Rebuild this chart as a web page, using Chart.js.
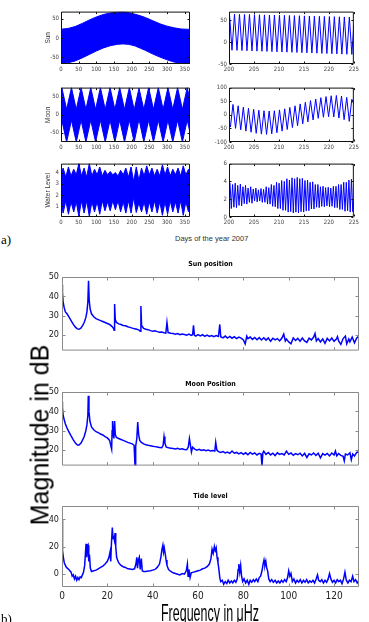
<!DOCTYPE html>
<html>
<head>
<meta charset="utf-8">
<title>Sun, Moon and tide level</title>
<script src="https://cdn.jsdelivr.net/npm/chart.js@4.4.0/dist/chart.umd.min.js"></script>
<style>
  body { margin:0; width:369px; height:622px; overflow:hidden; background:#fff; position:relative; font-family:"Liberation Sans", Arial, sans-serif; }
  canvas { position:absolute; }
  .txt { position:absolute; white-space:nowrap; color:#000; line-height:1; }
</style>
</head>
<body>
<canvas id="sunYear"></canvas>
<canvas id="sunZoom"></canvas>
<canvas id="moonYear"></canvas>
<canvas id="moonZoom"></canvas>
<canvas id="waterYear"></canvas>
<canvas id="waterZoom"></canvas>
<canvas id="sunSpec"></canvas>
<canvas id="moonSpec"></canvas>
<canvas id="tideSpec"></canvas>

<div class="txt" style="left:1px;top:232px;font:13px 'Liberation Serif',serif;">a)</div>
<div class="txt" style="left:175px;top:235px;font-size:7.5px;color:#333;">Days of the year 2007</div>
<div class="txt" style="left:40px;top:435px;font-size:25px;transform:translate(-50%,-50%) rotate(-90deg);">Magnitude in dB</div>
<div class="txt" style="left:210px;top:601px;font-size:24px;transform:scaleX(0.52) translateX(-50%);transform-origin:0 0;">Frequency in μHz</div>
<div class="txt" style="left:1px;top:611px;font:13px 'Liberation Serif',serif;">b)</div>

<script>
// ---- data ----
// sun altitude over the year: envelope of the daily swing
const sunYearDays  = [0, 20, 40, 60, 80, 100, 120, 140, 160, 175, 190, 200, 210, 225, 240, 260, 280, 300, 320, 340, 365];
const sunYearUpper = [23, 25, 30, 38, 47, 55, 61.5, 65.5, 67.5, 68, 66.5, 64.5, 62, 58, 53, 45, 37, 31, 26.5, 23.5, 22.5];
const sunYearLower = [-67, -65, -60, -52, -43, -34, -26, -20, -16.5, -15.5, -16.5, -18.5, -21, -27, -33, -42, -50, -57, -63, -66, -67];

// sun altitude, days 200-225 (daily maxima / minima)
const sunZoomDays = [200.1,200.6,201.1,201.6,202.1,202.6,203.1,203.6,204.1,204.6,205.1,205.6,206.1,206.6,207.1,207.6,208.1,208.6,209.1,209.6,
  210.1,210.6,211.1,211.6,212.1,212.6,213.1,213.6,214.1,214.6,215.1,215.6,216.1,216.6,217.1,217.6,218.1,218.6,219.1,219.6,
  220.1,220.6,221.1,221.6,222.1,222.6,223.1,223.6,224.1,224.6,225];
const sunZoomAlt = [64,-18.5,64,-18.9,63.8,-19.3,63.5,-19.7,63.3,-20.1,63,-20.5,62.8,-20.9,62.5,-21.3,62.2,-21.7,62,-22.1,
  61.7,-22.5,61.4,-22.9,61.1,-23.3,60.8,-23.7,60.5,-24.1,60.2,-24.5,59.9,-24.9,59.6,-25.3,59.3,-25.7,59,-26.1,
  58.7,-26.5,58.4,-26.9,58.1,-27.3,57.8,-27.7,57.5,-28.1,40];

// moon altitude over the year: envelope
const moonYearDays  = [0, 2.3, 15.9, 29.6, 43.2, 56.9, 70.5, 84.2, 97.8, 111.5, 125.1, 138.8, 152.4, 166.1, 179.7, 193.4, 207, 220.7, 234.3, 248, 261.6, 275.3, 288.9, 302.6, 316.2, 329.9, 343.5, 357.2, 365];
const moonYearUpper = [72, 75, 15, 75, 15, 75, 15, 75, 15, 75, 15, 75, 15, 75, 15, 75, 14, 73, 15, 75, 15, 75, 15, 75, 15, 75, 15, 75, 41];
const moonYearLower = [-20, -15, -75, -15, -75, -15, -75, -15, -75, -15, -75, -15, -75, -15, -75, -15, -75, -12, -75, -15, -75, -15, -75, -15, -75, -15, -75, -15, -49];

// moon altitude, days 200-225
const moonZoomDays = [200, 200.28, 200.8, 201.31, 201.83, 202.35, 202.87, 203.38, 203.9, 204.42, 204.94, 205.45, 205.97, 206.49, 207.01, 207.52,
  208.04, 208.56, 209.08, 209.59, 210.11, 210.63, 211.15, 211.66, 212.18, 212.7, 213.22, 213.73, 214.25, 214.77, 215.29, 215.8,
  216.32, 216.84, 217.36, 217.87, 218.39, 218.91, 219.43, 219.94, 220.46, 220.98, 221.5, 222.01, 222.53, 223.05, 223.57, 224.08, 224.6, 225];
const moonZoomAlt = [-30, -45,38, -50,33, -55,28, -60,24, -64,20, -68,17, -71,15, -72,14, -70,15, -66,18, -60,22, -54,27, -47,33,
  -40,40, -33,46, -26,52, -19,58, -13,63, -9,67, -7,70, -8,71, -12,69, -18,64, -24,57, 40];

// water level over the year: envelope at spring / neap tides
const waterYearDays  = [0, 6, 13.6, 21, 28.4, 36, 43.2, 50.5, 57.9, 65.3, 72.7, 80.1, 87.5, 94.8, 102.2, 109.6, 117, 124.4, 131.8, 139.2,
  146.6, 153.9, 161.3, 168.7, 176.1, 183.5, 190.9, 198.2, 205.6, 213, 220.4, 227.8, 235.2, 242.5, 249.9, 257.3, 264.7, 272.1, 279.5, 286.9,
  294.3, 301.6, 309, 316.4, 323.8, 331.2, 338.6, 345.9, 353.3, 360.7, 365];
const waterYearUpper = [3.8, 4.4, 3.6, 4.5, 3.7, 4.3, 3.8, 4.8, 3.7, 4.4, 3.6, 4.8, 3.7, 4.3, 3.8, 4.5, 3.7, 4.2, 3.8, 4.1,
  3.8, 4.0, 3.7, 4.2, 3.8, 4.4, 3.6, 4.5, 3.2, 4.5, 3.3, 4.4, 3.7, 4.6, 3.8, 4.4, 3.7, 4.3, 3.7, 4.7,
  3.8, 4.5, 3.7, 4.3, 3.8, 4.4, 3.7, 4.6, 3.8, 4.3, 4.0];
const waterYearLower = [1.3, 0.4, 1.5, 0.3, 1.4, 0.5, 1.4, 0.1, 1.5, 0.4, 1.5, 0.1, 1.4, 0.5, 1.4, 0.3, 1.5, 0.6, 1.4, 0.6,
  1.5, 0.7, 1.5, 0.5, 1.4, 0.4, 1.5, 0.4, 1.8, 0.45, 1.3, 0.5, 1.4, 0.3, 1.4, 0.5, 1.5, 0.4, 1.4, 0.2,
  1.4, 0.3, 1.5, 0.5, 1.4, 0.4, 1.5, 0.2, 1.4, 0.5, 1.0];

// water level, days 200-225 (high / low waters)
const waterZoomDays = [200.20,200.46,200.72,200.98,201.24,201.50,201.75,202.01,202.27,202.53,202.79,203.05,203.31,203.57,203.82,204.08,
  204.34,204.60,204.86,205.12,205.38,205.64,205.89,206.15,206.41,206.67,206.93,207.19,207.45,207.71,207.96,208.22,
  208.48,208.74,209.00,209.26,209.52,209.78,210.03,210.29,210.55,210.81,211.07,211.33,211.59,211.85,212.10,212.36,
  212.62,212.88,213.14,213.40,213.66,213.92,214.17,214.43,214.69,214.95,215.21,215.47,215.73,215.99,216.24,216.50,
  216.76,217.02,217.28,217.54,217.80,218.06,218.31,218.57,218.83,219.09,219.35,219.61,219.87,220.13,220.38,220.64,
  220.90,221.16,221.42,221.68,221.94,222.20,222.45,222.71,222.97,223.23,223.49,223.75,224.01,224.27,224.52,224.78,225];
const waterZoomLevel = [3.85,0.95, 3.65,1.1, 3.8,1.05, 3.55,1.3, 3.7,1.25, 3.4,1.5, 3.55,1.45, 3.25,1.65, 3.4,1.55, 3.15,1.8,
  3.25,1.7, 3.05,1.8, 3.2,1.65, 3.1,1.65, 3.4,1.45, 3.3,1.45, 3.65,1.2, 3.55,1.15, 3.9,0.95, 3.8,0.95,
  4.1,0.75, 4.0,0.75, 4.3,0.55, 4.15,0.6, 4.4,0.45, 4.3,0.55, 4.45,0.45, 4.3,0.6, 4.35,0.55, 4.1,0.7,
  4.15,0.7, 3.9,0.9, 3.95,0.9, 3.65,1.1, 3.65,1.05, 3.4,1.2, 3.45,1.15, 3.3,1.25, 3.35,1.15, 3.25,1.2,
  3.45,1.05, 3.45,1.05, 3.65,0.85, 3.65,0.85, 3.9,0.65, 3.9,0.7, 4.15,0.55, 4.25,0.6, 2.0];

// spectra: [frequency in uHz, magnitude in dB]
const sunSpectrum = [[0,46],[0.2,42],[0.5,37],[1,34],[1.5,32],[2.2,31],[3,29.5],[4,27.5],[5,25.5],[6,24],[6.8,23.2],[7.5,23],[8.3,23.6],[9,24.8],[9.8,26.5],
  [10.5,29],[11,32],[11.4,37],[11.7,48],[12,38],[12.4,33.5],[13,31],[14,29.5],[15,28.5],[16,28],[17,27.5],[18,27],[19,26.5],[20,26],[21,25.5],[22,24.5],
  [22.7,23.5],[23,22.5],[23.2,36],[23.5,28],[24,26.5],[25,25.8],[26,25.5],[27,25],[28,24.8],[29,24.3],[30,24],[31,23.6],[32,23.3],[33,23],[34,22.6],
  [34.5,22],[34.8,35],[35.1,25],[36,23.5],[37,23],[38,22.8],[39,22.3],[40,22],[41,22.2],[42,21.8],[43,21.5],[44,21.6],[45,21.2],[45.8,21],[46.3,26.5],
  [46.8,21.3],[48,21],[49,20.8],[50,20.5],[51,20.8],[52,20.2],[53,20.6],[54,20.3],[55,20],[56,20.5],[57,19.8],[57.6,20.2],[58,25],[58.4,20],[59,19.5],
  [60,20.3],[61,19.6],[62,20.2],[63,19.4],[64,20],[65,19.3],[66,19.8],[67,19.2],[68,19.8],[69,19.3],[69.6,25.5],[70,19.2],[71,18.6],[72,19.5],[73,18.5],
  [74,19.3],[75,18.4],[76,19.2],[77,18.2],[78,19],[79,18.4],[80,17.5],[80.8,15.5],[81.5,19.5],[82,18.2],[83,19],[84,17.8],[85,18.8],[86,17.6],[87,18.7],
  [88,17.5],[89,18.6],[90,17.4],[91,18.5],[92,16.8],[93,18.4],[94,17.5],[95,18.2],[96,17],[97,18.5],[97.8,20.5],[98.5,17],[99,18],[100,16.5],[101,15.5],
  [102,18.5],[103,17.2],[104,18.3],[105,16.8],[106,18.5],[107,17],[108,16.2],[109,18.4],[110,17.5],[111,19],[111.6,20.8],[112.2,17],[113,18.2],[114,16.5],
  [115,18],[116,15.8],[117,18.3],[118,17],[119,18.5],[120,16.8],[121,18],[121.5,19.2],[122,17],[123,15.2],[124,18.2],[125,19.5],[125.6,15.5],[126.5,18],
  [127,16.5],[128,19],[129,16],[130,18.5],[131,19.5]];

const moonSpectrum = [[0,45],[0.2,42],[0.5,38],[1,35.5],[1.5,33.5],[2.2,31.5],[3,29.5],[4,27.3],[5,25.3],[6,23.5],[6.8,22.6],[7.5,22.6],[8.3,23.5],[9,25],
  [9.8,27],[10.5,30],[11,33],[11.4,38],[11.6,48],[11.9,40],[12.3,35],[13,32],[14,30.5],[15,29.5],[16,29],[17,28.3],[18,27.8],[19,27],[20,26.3],[21,25],
  [21.6,22],[21.9,20.5],[22.1,30],[22.3,35],[22.6,28],[22.9,26],[23.2,35],[23.5,28],[24,26.5],[25,26],[26,25.5],[27,25],[28,24.5],[29,24],[30,23.6],
  [31,23.2],[31.8,22.5],[32.2,12],[32.5,22],[33,26],[33.4,34.5],[33.8,28],[34.3,25],[35,24],[36,23.2],[37,22.8],[38,22.5],[39,22.3],[40,22],[41,21.8],
  [42,21.6],[43,21.4],[44,21.2],[44.6,22.5],[45,27],[45.4,23.5],[46,21.5],[47,21.2],[48,21],[49,20.8],[50,20.6],[51,20.9],[52,20.4],[53,20.7],[54,20.3],
  [55,20.2],[55.7,21.5],[56.2,26],[56.6,23],[57.1,19],[57.6,21.5],[58.5,20.5],[59.5,20],[60.5,20.4],[61.5,19.8],[62.5,20.2],[63.5,19.7],[64.5,20],[65.5,19.5],
  [66.5,19.8],[67.4,19.5],[67.8,24],[68.3,20],[69,19.2],[70,18.8],[71,19.2],[72,18.5],[73,19],[74,18.3],[75,19.5],[76,18.4],[77,18.8],[78,18],[79,18.7],
  [80,17.8],[81,18.6],[82,17.6],[83,18.8],[84,17.9],[85,18.5],[86,17.5],[87,18.3],[87.8,18],[88.2,12],[88.6,18.5],[89,19.4],[90,17.8],[91,18.8],[92,17.5],
  [93,18.4],[94,17.2],[95,18.6],[96,17.8],[97,18.2],[98,17.5],[99,19.5],[100,17.8],[101,18.5],[102,17.3],[103,18.2],[104,17.6],[105,18.4],[106,17],
  [107,18.3],[108,16.2],[109,18.1],[110,17.5],[111,18.5],[112,17.2],[113,18.4],[114,16],[115,18.2],[116,17.4],[117,18.3],[118,17],[119,18.5],[120,17.5],
  [120.6,19.5],[121.2,17],[122,18.2],[123,17.3],[124,16.8],[124.5,14.5],[125,18],[126,17.5],[127,18.6],[127.6,15],[128.2,18],[129,17],[130,18.8],[131,19.2]];

const tideSpectrum = [[0,40],[0.15,30],[0.3,17],[0.6,12],[1,8],[1.5,6],[2,4.5],[3,3],[4,1],[4.5,-2],[5,-1],[5.5,-4],[6,-2],[6.5,-5],[7,-3],[7.5,-4.5],
  [8,-2.5],[8.5,-3],[9,-1],[9.5,1],[10,6],[10.3,14],[10.6,22],[10.9,12],[11.2,20],[11.5,21],[11.8,9],[12.1,14],[12.5,4],[13,1.5],[14,2],[15,2.5],[16,3.5],
  [17,4.5],[18,5.5],[19,7],[20,9],[20.7,12],[21.2,16],[21.5,9],[21.8,22],[22.2,34],[22.5,26],[22.8,28],[23.1,25],[23.4,30],[23.7,20],[24.1,12],[24.5,10],
  [25,8],[26,6],[27,5],[28,4.5],[29,3.5],[30,3.3],[31,3],[32,3.5],[32.6,7],[33,12],[33.3,4],[33.7,10],[34.1,12],[34.5,3],[35,11],[35.4,2],[36,1.5],[37,1.5],
  [38,1.8],[39,2],[40,2.5],[41,3],[42,4.5],[43,7],[43.6,12],[44.1,18],[44.5,21],[44.8,16],[45.1,19],[45.5,15],[45.9,10],[46.3,6],[47,3],[48,1.5],[49,0.5],
  [50,0],[51,-0.5],[52,-1],[53,0],[54,-0.5],[54.8,2],[55.3,7],[55.6,-2],[56,3],[56.5,-3],[57,0.5],[58,1],[59,1.5],[60,2],[61,2.5],[62,3.5],[63,4],[64,5],
  [65,7],[65.7,11],[66.2,18],[66.7,15],[67.2,20],[67.6,17],[68,19],[68.4,12],[68.8,8],[69.2,3],[69.6,-3],[70,-6],[70.7,-5],[71.3,-8],[72,-6],[72.7,-7.5],
  [73.3,-5],[74,-7],[74.7,-5.5],[75.3,-7],[76,-5],[76.7,-6.5],[77.3,-4],[77.7,3],[78,7],[78.4,1],[78.8,6],[79.2,-2],[79.7,-6],[80.3,-4],[81,-7],[81.7,-5],
  [82.4,-8],[83,-5],[83.7,-6.5],[84.4,-4.5],[85,-6],[85.7,-4],[86.4,-6],[87,-3],[87.6,-2],[88.2,2],[88.7,7],[89.1,10],[89.5,6],[89.9,9],[90.3,4],[90.7,2],
  [91.2,-4],[91.8,-6],[92.5,-4.5],[93.2,-6.5],[94,-5],[94.7,-7],[95.4,-5.5],[96.1,-7],[96.8,-5],[97.5,-6.5],[98.2,-4.5],[98.9,-6],[99.5,-3],[100,2],
  [100.5,-2],[101,0],[101.6,-6],[102.3,-4],[103,-7],[103.7,-5],[104.4,-6.5],[105.1,-4.5],[105.8,-7],[106.5,-5],[107.2,-6.5],[107.9,-4.5],[108.6,-7],
  [109.3,-5.5],[110,-6.5],[110.7,-5],[111.4,-7],[112.1,-4],[112.7,-1],[113.2,-5],[113.9,-6],[114.6,-4.5],[115.3,-7],[116,-5],[116.7,-6.5],[117.4,-4],
  [118,0],[118.6,-4],[119.3,-6.5],[120,-5],[120.7,-7],[121.4,-4.5],[122.1,-6],[122.8,-5],[123.5,-7.5],[124.2,-4],[124.8,1],[125.4,-5],[126.1,-7],
  [126.8,-5],[127.5,-6],[128.2,-2],[128.8,-6],[129.5,-4.5],[130.2,-7],[131,-5]];

// tick labels
const yearTicks = [0, 50, 100, 150, 200, 250, 300, 350];
const zoomTicks = [200, 205, 210, 215, 220, 225];
const altTicks = [-50, 0, 50];
const moonZoomTicks = [-100, -50, 0, 50, 100];
const waterYearTicks = [1, 2, 3, 4];
const waterZoomTicks = [0, 2, 4, 6];
const dbTicks = [20, 30, 40, 50];
const tideDbTicks = [0, 20, 40];
const freqTicks = [0, 20, 40, 60, 80, 100, 120];

// ---- drawing ----
const blue = '#0000ff';
const condensed = '"DejaVu Sans Condensed", "Liberation Sans", sans-serif';

// MATLAB style box with inward ticks on all sides, plus optional title
const frame = {
  id: 'frame',
  afterDatasetsDraw(chart, args, o) {
    const { ctx, chartArea: a } = chart;
    const xs = chart.scales.x, ys = chart.scales.y;
    const L = a.left + 0.5, R = a.right - 0.5, T = a.top + 0.5, B = a.bottom - 0.5;
    const len = o.tick;
    ctx.save();
    ctx.strokeStyle = o.color;
    ctx.lineWidth = 1;
    ctx.beginPath();
    ctx.rect(L, T, R - L, B - T);
    xs.ticks.forEach(t => {
      const p = Math.round(xs.getPixelForValue(t.value)) + 0.5;
      ctx.moveTo(p, B); ctx.lineTo(p, B - len);
      ctx.moveTo(p, T); ctx.lineTo(p, T + len);
    });
    ys.ticks.forEach(t => {
      const p = Math.round(ys.getPixelForValue(t.value)) + 0.5;
      ctx.moveTo(L, p); ctx.lineTo(L + len, p);
      ctx.moveTo(R, p); ctx.lineTo(R - len, p);
    });
    ctx.stroke();
    if (o.title) {
      ctx.fillStyle = '#000';
      ctx.font = o.titleFont;
      ctx.textAlign = 'center';
      ctx.textBaseline = 'middle';
      ctx.fillText(o.title, (a.left + a.right) / 2, a.top - o.titleGap);
    }
    ctx.restore();
  }
};

function xy(xs, ys) { return xs.map((v, i) => ({ x: v, y: ys[i] })); }
function pairs(arr) { return arr.map(p => ({ x: p[0], y: p[1] })); }

function band(days, upper, lower) {
  return [
    { data: xy(days, upper), borderColor: blue, backgroundColor: blue, borderWidth: 1, fill: '+1' },
    { data: xy(days, lower), borderColor: blue, backgroundColor: blue, borderWidth: 1, fill: false }
  ];
}
function trace(data, w) {
  return [{ data, borderColor: blue, borderWidth: w, fill: false }];
}

// box: chart area in page pixels (l,t,r,b), yw = y axis width, xh = x axis height, pt/pr = top/right padding
function panel(id, box, datasets, x, y, fr) {
  const c = document.getElementById(id);
  const left = box.l - box.yw, top = box.t - box.pt;
  const w = box.r + box.pr - left, h = box.b + box.xh - top;
  c.style.left = left + 'px';
  c.style.top = top + 'px';
  c.width = w; c.height = h;
  c.style.width = w + 'px'; c.style.height = h + 'px';
  return new Chart(c, {
    type: 'line',
    data: { datasets },
    options: {
      responsive: false,
      animation: false,
      events: [],
      layout: { padding: { left: 0, top: box.pt, right: box.pr, bottom: 0 } },
      elements: { point: { radius: 0 }, line: { tension: 0 } },
      plugins: { legend: { display: false }, tooltip: { enabled: false }, frame: fr },
      scales: {
        x: {
          type: 'linear', min: x.min, max: x.max,
          grid: { display: false, drawTicks: false }, border: { display: false },
          afterBuildTicks: s => { s.ticks = x.ticks.map(v => ({ value: v })); },
          afterFit: s => { s.height = box.xh; },
          ticks: { display: x.show !== false, font: x.font, color: x.color, padding: x.pad, maxRotation: 0, minRotation: 0, autoSkip: false }
        },
        y: {
          type: 'linear', min: y.min, max: y.max,
          grid: { display: false, drawTicks: false }, border: { display: false },
          afterBuildTicks: s => { s.ticks = y.ticks.map(v => ({ value: v })); },
          afterFit: s => { s.width = box.yw; },
          ticks: { font: y.font, color: y.color, padding: y.pad, autoSkip: false },
          title: y.title ? { display: true, text: y.title, font: y.titleFont, color: '#333', padding: { top: y.titlePad, bottom: 0 } } : { display: false }
        }
      }
    },
    plugins: [frame]
  });
}

const smallFont = { family: condensed, size: 6 };
const axisTitleFont = { family: '"Liberation Sans", sans-serif', size: 6.5 };
const topFrame = { color: '#111', tick: 2 };
const yearX = { min: 0, max: 365, ticks: yearTicks, font: smallFont, color: '#444', pad: 2 };
const zoomX = { min: 200, max: 225, ticks: zoomTicks, font: smallFont, color: '#444', pad: 2 };

const leftCol = { l: 61, r: 190, yw: 21, xh: 10, pt: 4, pr: 3 };
const rightCol = { l: 229, r: 358, yw: 22, xh: 10, pt: 4, pr: 3 };

panel('sunYear', { ...leftCol, t: 10, b: 64 }, band(sunYearDays, sunYearUpper, sunYearLower), yearX,
  { min: -68, max: 69, ticks: altTicks, font: smallFont, color: '#444', pad: 2, title: 'Sun', titleFont: axisTitleFont, titlePad: 4 }, topFrame);
panel('sunZoom', { ...rightCol, t: 10, b: 64 }, trace(xy(sunZoomDays, sunZoomAlt), 1), zoomX,
  { min: -50, max: 70, ticks: altTicks, font: smallFont, color: '#444', pad: 2 }, topFrame);

panel('moonYear', { ...leftCol, t: 86, b: 142 }, band(moonYearDays, moonYearUpper, moonYearLower), yearX,
  { min: -75, max: 75, ticks: altTicks, font: smallFont, color: '#444', pad: 2, title: 'Moon', titleFont: axisTitleFont, titlePad: 4 }, topFrame);
panel('moonZoom', { ...rightCol, t: 86, b: 142 }, trace(xy(moonZoomDays, moonZoomAlt), 1), zoomX,
  { min: -100, max: 100, ticks: moonZoomTicks, font: smallFont, color: '#444', pad: 2 }, topFrame);

panel('waterYear', { ...leftCol, t: 162, b: 217 }, band(waterYearDays, waterYearUpper, waterYearLower), yearX,
  { min: 0.05, max: 4.8, ticks: waterYearTicks, font: smallFont, color: '#444', pad: 2, title: 'Water Level', titleFont: axisTitleFont, titlePad: 4 }, topFrame);
panel('waterZoom', { ...rightCol, t: 162, b: 217 }, trace(xy(waterZoomDays, waterZoomLevel), 1), zoomX,
  { min: 0, max: 6, ticks: waterZoomTicks, font: smallFont, color: '#444', pad: 2 }, topFrame);

const specTickFont = { family: condensed, size: 9 };
const freqFont = { family: condensed, size: 10 };
const specTitleFont = 'bold 7px ' + condensed;
const specCol = { l: 62, r: 359, yw: 24, pr: 3 };

panel('sunSpec', { ...specCol, t: 277, b: 357, xh: 2, pt: 17 }, trace(pairs(sunSpectrum), 1.5),
  { min: 0, max: 131, ticks: freqTicks, show: false },
  { min: 12, max: 50, ticks: dbTicks, font: specTickFont, color: '#222', pad: 3 },
  { color: '#8a8a8a', tick: 3, title: 'Sun position', titleFont: specTitleFont, titleGap: 13 });

panel('moonSpec', { ...specCol, t: 392, b: 472, xh: 2, pt: 13 }, trace(pairs(moonSpectrum), 1.5),
  { min: 0, max: 131, ticks: freqTicks, show: false },
  { min: 12, max: 50, ticks: dbTicks, font: specTickFont, color: '#222', pad: 3 },
  { color: '#8a8a8a', tick: 3, title: 'Moon Position', titleFont: specTitleFont, titleGap: 8 });

panel('tideSpec', { ...specCol, t: 506, b: 587, xh: 16, pt: 14 }, trace(pairs(tideSpectrum), 1.5),
  { min: 0, max: 131, ticks: freqTicks, font: freqFont, color: '#222', pad: 3 },
  { min: -10, max: 50, ticks: tideDbTicks, font: specTickFont, color: '#222', pad: 3 },
  { color: '#8a8a8a', tick: 3, title: 'Tide level', titleFont: specTitleFont, titleGap: 10 });
</script>
</body>
</html>
